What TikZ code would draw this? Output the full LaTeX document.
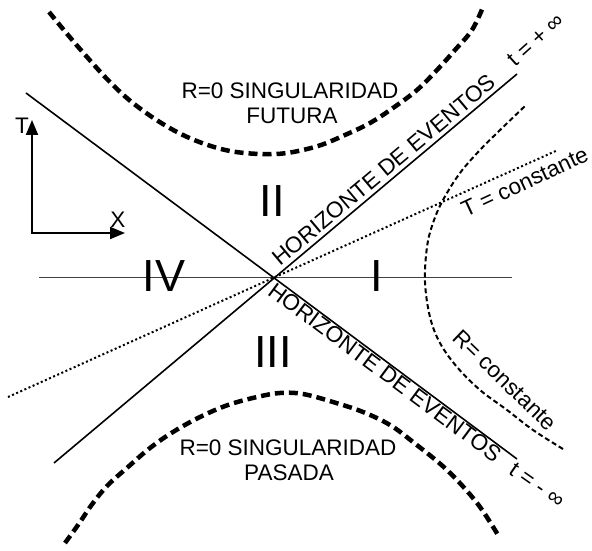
\documentclass[tikz,border=0pt]{standalone}
\usepackage{fontspec}
\setmainfont{Liberation Sans}
\usetikzlibrary{arrows.meta}
\begin{document}
\begin{tikzpicture}[x=1pt,y=1pt,
  horizon/.style={line width=1.6pt},
  sing/.style={line width=4.5pt, dash pattern=on 9pt off 5pt},
  rconst/.style={line width=2pt, dash pattern=on 5pt off 3pt},
  tconst/.style={line width=2pt, dash pattern=on 2pt off 2.5pt},
  lbl/.style={font=\fontsize{22.5}{25}\selectfont, inner sep=0pt},
  region/.style={font=\fontsize{45}{50}\selectfont, inner sep=0pt},
  axisarrow/.style={line width=2pt, {Triangle[length=15pt,width=12pt]}-{Triangle[length=15pt,width=12pt]}}]
\useasboundingbox (0,0) rectangle (592,550);
% coordinates
\coordinate (C) at (274,273);
\coordinate (Hp0) at (54,87);  \coordinate (Hp1) at (517,476);
\coordinate (Hm0) at (26,457); \coordinate (Hm1) at (517,91);
\coordinate (X0) at (39,273);  \coordinate (X1) at (512,273);
\coordinate (T0) at (8,153);   \coordinate (T1) at (558,400);
\coordinate (O) at (32,317); \coordinate (Ttip) at (32,430); \coordinate (Xtip) at (125,317);
% lines
\draw[line width=1pt, black!75] (X0) -- (X1);
\draw[horizon] (Hp0) -- (Hp1);
\draw[horizon] (Hm0) -- (Hm1);
\draw[tconst] (T0) -- (T1);
% R = constante
\draw[rconst] plot[smooth, tension=0.6] coordinates {(563,101) (533,120) (507,140) (480,160) (457,183) (440,207) (430,233) (425,268) (427,303) (433,327) (443,350) (460,377) (480,400) (497,417) (525,444)};
% singularities
\draw[sing] plot[smooth, tension=0.6] coordinates {(49,538) (68,515) (87,493) (107,471) (128,451) (152,433) (177,418) (202,407) (230,399) (260,396) (287,397) (318,404) (345,415) (370,427) (393,442) (417,460) (437,480) (455,500) (472,520) (483,543)};
\draw[sing] plot[smooth, tension=0.6] coordinates {(65,7) (78,25) (93,47) (108,65) (128,83) (150,102) (173,118) (200,133) (228,145) (257,153) (280,157) (303,156) (333,148) (363,138) (390,125) (413,108) (447,80) (477,47) (498,15)};
% axes
\draw[axisarrow] (Ttip) -- (O) -- (Xtip);
\node[lbl] (tl) at (22,424) {T};
\node[lbl] (xl) at (118,330) {X};
% labels
\node[lbl, anchor=base] (futA) at (290,451) {R=0 SINGULARIDAD};
\node[lbl, anchor=base] (futB) at (292,426) {FUTURA};
\node[lbl, anchor=base] (pasA) at (288,95) {R=0 SINGULARIDAD};
\node[lbl, anchor=base] (pasB) at (289,70) {PASADA};
\node[region] (rII) at (272,349) {II};
\node[region] (rIV) at (164,274) {IV};
\node[region] (rI) at (377,274) {I};
\node[region] (rIII) at (273,198) {III};
\node[lbl, anchor=base, rotate=40] (hzp) at (388.8,374.2) {HORIZONTE DE EVENTOS};
\node[lbl, anchor=base, rotate=-36.7] (hzm) at (380.3,171.3) {HORIZONTE DE EVENTOS};
\node[lbl, rotate=42] (tp) at (536,510) {t = + ∞};
\node[lbl, rotate=-35] (tm) at (537,65) {t = - ∞};
\node[lbl, anchor=base, rotate=25] (tc) at (528,361) {T = constante};
\node[lbl, rotate=-44] (rc) at (505,170) {R= constante};
\end{tikzpicture}
\end{document}
